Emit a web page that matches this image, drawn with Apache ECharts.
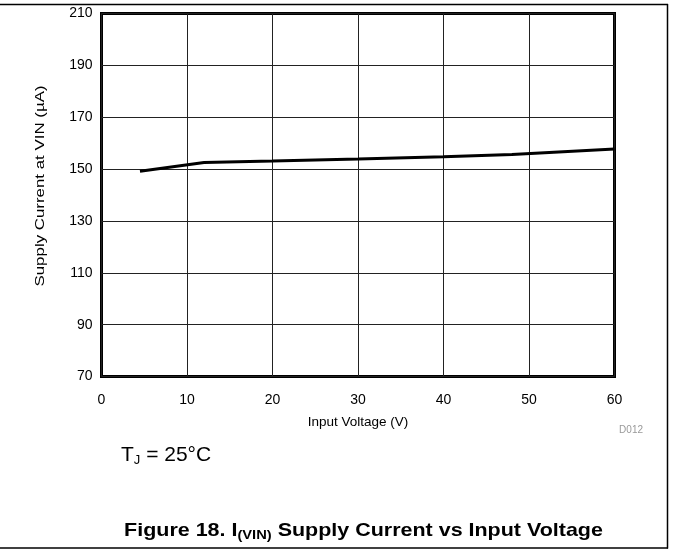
<!DOCTYPE html>
<html>
<head>
<meta charset="utf-8">
<script src="https://cdn.jsdelivr.net/npm/echarts@6/dist/echarts.min.js"></script>
<style>
html,body{margin:0;padding:0;background:#fff;}
#c{width:673px;height:550px;}
</style>
</head>
<body>
<div id="c"></div>
<script>
// Data
const inputVoltage = [4.5, 12, 20, 30, 40, 48, 60];
const supplyCurrent = [149.2, 152.5, 153.1, 153.9, 154.8, 155.6, 157.7];
const xTicks = [0, 10, 20, 30, 40, 50, 60];
const yTicks = [70, 90, 110, 130, 150, 170, 190, 210];

const chart = echarts.init(document.getElementById('c'), null, {renderer: 'canvas'});
const FONT = 'Liberation Sans, Arial, sans-serif';

const seriesData = inputVoltage.map((v, i) => [v, supplyCurrent[i]]);

chart.setOption({
  animation: false,
  backgroundColor: '#fff',
  grid: {
    left: 101.5, top: 13.5, right: 58.5, bottom: 173.5,
    show: true, borderColor: '#000', borderWidth: 3, backgroundColor: 'transparent'
  },
  xAxis: {
    type: 'value', min: xTicks[0], max: xTicks[xTicks.length - 1], interval: 10,
    name: 'Input Voltage (V)', nameLocation: 'middle', nameGap: 39,
    nameTextStyle: {fontFamily: FONT, fontSize: 13.5, color: '#000'},
    axisLine: {show: false}, axisTick: {show: false},
    axisLabel: {fontFamily: FONT, fontSize: 14, color: '#000', margin: 17},
    splitLine: {show: true, lineStyle: {color: '#222', width: 1}}
  },
  yAxis: {
    type: 'value', min: yTicks[0], max: yTicks[yTicks.length - 1], interval: 20,
    axisLine: {show: false}, axisTick: {show: false},
    axisLabel: {fontFamily: FONT, fontSize: 14, color: '#000', margin: 9},
    splitLine: {show: true, lineStyle: {color: '#222', width: 1}}
  },
  series: [{
    type: 'line', data: seriesData, showSymbol: false, symbol: 'none',
    lineStyle: {color: '#000', width: 3}, z: 5
  }],
  graphic: [
    {type: 'line', shape: {x1: 0, y1: 4.5, x2: 668, y2: 4.5}, style: {stroke: '#000', lineWidth: 1.5}},
    {type: 'line', shape: {x1: 667.5, y1: 4, x2: 667.5, y2: 548.5}, style: {stroke: '#000', lineWidth: 1.5}},
    {type: 'line', shape: {x1: 0, y1: 548, x2: 668, y2: 548}, style: {stroke: '#000', lineWidth: 1.5}},
    {type: 'text', x: 41, y: 186, rotation: Math.PI / 2, scaleX: 1.35,
      style: {text: 'Supply Current at VIN (µA)', fill: '#000', font: '12.5px ' + FONT, textAlign: 'center', textVerticalAlign: 'middle'}},
    {type: 'text', x: 643, y: 430, style: {text: 'D012', fill: '#999', font: '10px ' + FONT, textAlign: 'right', textVerticalAlign: 'middle'}},
    {type: 'text', x: 121, y: 455, style: {
      text: '{n|T}{s|J}{n| = 25°C}', textVerticalAlign: 'middle',
      rich: {
        n: {fontFamily: FONT, fontSize: 21, color: '#000'},
        s: {fontFamily: FONT, fontSize: 13, color: '#000', padding: [10, 0, 0, 0]}
      }
    }},
    {type: 'text', x: 363.5, y: 531, scaleX: 1.13, style: {
      text: '{n|Figure 18. I}{s|(VIN)}{n| Supply Current vs Input Voltage}', textAlign: 'center', textVerticalAlign: 'middle',
      rich: {
        n: {fontFamily: FONT, fontSize: 19, fontWeight: 'bold', color: '#000'},
        s: {fontFamily: FONT, fontSize: 13, fontWeight: 'bold', color: '#000', padding: [9, 0, 0, 0]}
      }
    }}
  ]
});
</script>
</body>
</html>
